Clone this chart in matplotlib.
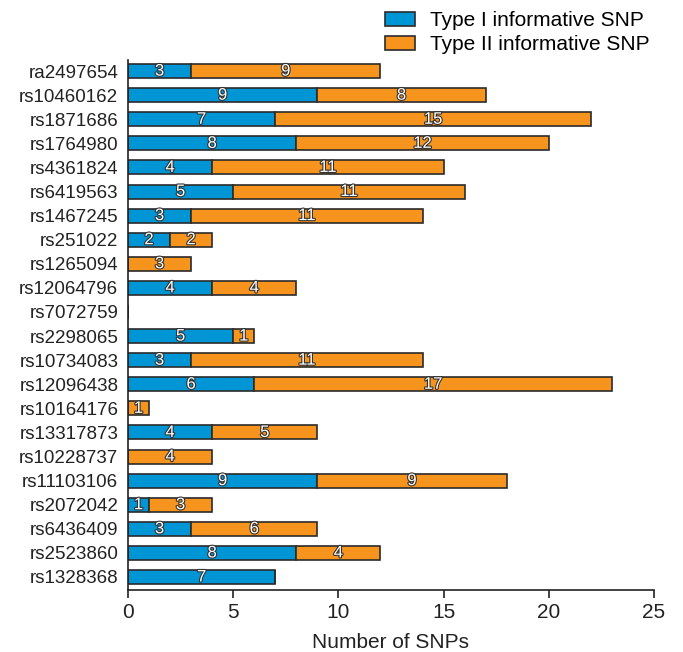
import matplotlib
matplotlib.use('Agg')
import matplotlib.pyplot as plt
import matplotlib.patheffects as pe

plt.rcParams['font.family'] = ['Liberation Sans', 'DejaVu Sans']

snps = ['ra2497654', 'rs10460162', 'rs1871686', 'rs1764980', 'rs4361824',
        'rs6419563', 'rs1467245', 'rs251022', 'rs1265094', 'rs12064796',
        'rs7072759', 'rs2298065', 'rs10734083', 'rs12096438', 'rs10164176',
        'rs13317873', 'rs10228737', 'rs11103106', 'rs2072042', 'rs6436409',
        'rs2523860', 'rs1328368']
type1 = [3, 9, 7, 8, 4, 5, 3, 2, 0, 4, 0, 5, 3, 6, 0, 4, 0, 9, 1, 3, 8, 7]
type2 = [9, 8, 15, 12, 11, 11, 11, 2, 3, 4, 0, 1, 11, 17, 1, 5, 4, 9, 3, 6, 4, 0]

blue = '#0096d6'
orange = '#f7941d'
edge = '#2b2b2b'

fig = plt.figure(figsize=(6.83, 6.52), dpi=100)
ax = fig.add_axes([0.1874, 0.0951, 0.7701, 0.8129])

y = list(range(len(snps)))
h = 0.58
b1 = ax.barh(y, type1, height=h, color=blue, edgecolor=edge, linewidth=1.2,
             label='Type I informative SNP')
b2 = ax.barh(y, type2, left=type1, height=h, color=orange, edgecolor=edge,
             linewidth=1.2, label='Type II informative SNP')

outline = [pe.withStroke(linewidth=1.6, foreground='#333333')]
for i in y:
    if type1[i] > 0:
        ax.text(type1[i] / 2, i, str(type1[i]), ha='center', va='center',
                color='white', fontsize=12, path_effects=outline)
    if type2[i] > 0:
        ax.text(type1[i] + type2[i] / 2, i, str(type2[i]), ha='center',
                va='center', color='white', fontsize=12, path_effects=outline)

ax.set_ylim(21.54, -0.46)
ax.set_xlim(0, 25)
ax.set_yticks(y)
ax.set_yticklabels(snps, fontsize=13.5, color='#222222')
ax.tick_params(axis='y', length=0, pad=7)
ax.set_xticks([0, 5, 10, 15, 20, 25])
ax.tick_params(axis='x', labelsize=15, length=6, width=1.2, colors='#222222')
ax.set_xlabel('Number of SNPs', fontsize=15, color='#222222', labelpad=8)
for s in ['top', 'right']:
    ax.spines[s].set_visible(False)
for s in ['left', 'bottom']:
    ax.spines[s].set_linewidth(1.2)
    ax.spines[s].set_color('#222222')

fig.legend(handles=[b1, b2], loc='upper left', bbox_to_anchor=(385 / 683, 1 - 11 / 652),
           frameon=False, fontsize=15, handlelength=1.45, handleheight=0.67,
           labelspacing=0.25, handletextpad=0.72, borderpad=0, borderaxespad=0)

fig.savefig('out.png', dpi=100)
